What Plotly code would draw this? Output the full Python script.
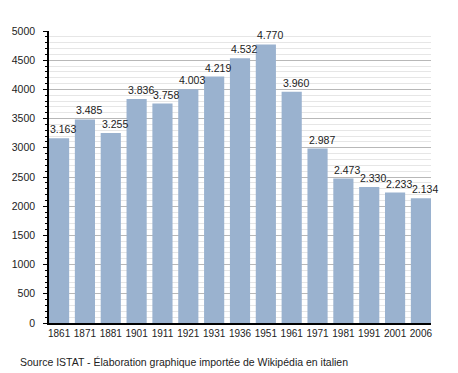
import plotly.graph_objects as go

years = ["1861", "1871", "1881", "1901", "1911", "1921", "1931", "1936",
         "1951", "1961", "1971", "1981", "1991", "2001", "2006"]
population = [3163, 3485, 3255, 3836, 3758, 4003, 4219, 4532, 4770, 3960,
              2987, 2473, 2330, 2233, 2134]
source_text = "Source ISTAT - Élaboration graphique importée de Wikipédia en italien"

n = len(years)
labels = [f"{v:,}".replace(",", ".") for v in population]
FONT = "Liberation Sans, Arial"

fig = go.Figure()
fig.add_trace(go.Bar(
    x=list(range(n)), y=population,
    marker=dict(color="#9ab2cf", line=dict(width=0)),
    hoverinfo="skip",
))

for i, (v, t) in enumerate(zip(population, labels)):
    fig.add_annotation(x=i, y=v, text=t, showarrow=False,
                       xanchor="left", yanchor="bottom", xshift=-11, yshift=1,
                       font=dict(family=FONT, size=10.5, color="#222"))

fig.add_annotation(x=-0.08, y=-0.134, xref="paper", yref="paper",
                   text=source_text, showarrow=False, xanchor="left", yanchor="middle",
                   font=dict(family=FONT, size=10.5, color="#222"))

# page body has an 8px default margin; figure is sized/offset to compensate
fig.update_layout(
    width=450, height=365,
    margin=dict(l=41, r=27, t=23, b=50, autoexpand=False),
    paper_bgcolor="white", plot_bgcolor="white",
    bargap=0.22, showlegend=False,
    font=dict(family=FONT, size=10, color="#222"),
)
fig.update_xaxes(
    range=[-0.39, n - 1 + 0.39],
    tickmode="array", tickvals=list(range(n)), ticktext=years,
    tickangle=0, automargin=False,
    showline=True, linecolor="black", linewidth=1.5,
    ticks="", showgrid=False, zeroline=False,
    tickfont=dict(size=10),
)
fig.update_yaxes(
    range=[0, 5000], dtick=500, tick0=0, automargin=False,
    showline=True, linecolor="black", linewidth=1.5,
    ticks="outside", ticklen=4, tickcolor="black",
    ticklabelstandoff=6,
    showgrid=True, gridcolor="#b8b8b8", gridwidth=1,
    zeroline=False,
    minor=dict(dtick=100, ticks="outside", ticklen=2, tickcolor="black",
               showgrid=True, gridcolor="#e6e6e6", gridwidth=1),
    tickfont=dict(size=10.5),
)

fig.write_html("out.html")
